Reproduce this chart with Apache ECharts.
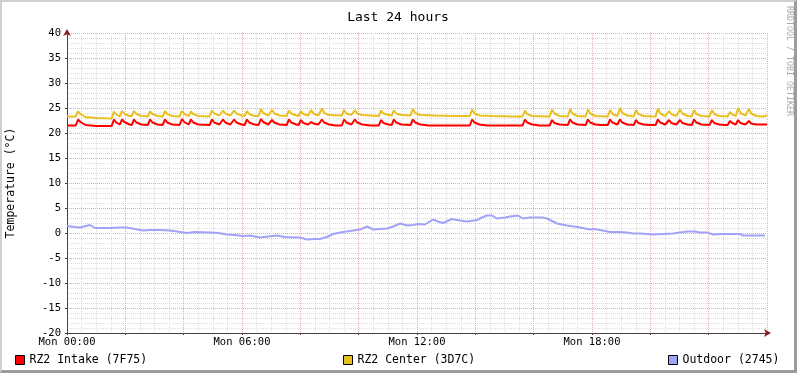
<!DOCTYPE html>
<html>
<head>
<meta charset="utf-8">
<script src="https://cdn.jsdelivr.net/npm/echarts@6/dist/echarts.min.js"></script>
<style>
  html, body { margin: 0; padding: 0; background: #fff; }
  #chart {
    width: 797px; height: 373px; box-sizing: border-box;
    border-top: 2px solid #cfcfcf; border-left: 2px solid #cfcfcf;
    border-right: 3px solid #9c9c9c; border-bottom: 3px solid #9c9c9c;
    background: #fff;
  }
</style>
</head>
<body>
<div id="chart"></div>
<script>
// values, time in hours since Mon 00:00
const seriesNames = ['RZ2 Intake (7F75)', 'RZ2 Center (3D7C)', 'Outdoor (2745)'];
const tickHours = [0, 6, 12, 18];
const tickLabels = ['Mon 00:00', 'Mon 06:00', 'Mon 12:00', 'Mon 18:00'];

const intakeData = [
  [0,21.5],[0.30,21.5],[0.38,22.7],[0.46,22.2],[0.63,21.6],[1.0,21.4],[1.53,21.4],
  [1.61,22.7],[1.69,22.1],[1.81,21.7],[1.89,22.7],[1.97,22.2],[2.14,21.7],
  [2.22,21.6],[2.30,22.7],[2.38,22.1],[2.55,21.7],
  [2.77,21.6],[2.85,22.7],[2.93,22.1],[3.10,21.7],
  [3.28,21.6],[3.36,22.7],[3.44,22.1],[3.61,21.7],
  [3.86,21.6],[3.94,22.8],[4.02,22.2],[4.17,21.7],[4.25,22.7],[4.33,22.1],[4.50,21.7],
  [4.89,21.6],[4.97,22.7],[5.05,22.1],[5.22,21.7],
  [5.27,21.6],[5.35,22.7],[5.43,22.1],[5.60,21.7],
  [5.65,21.6],[5.73,22.7],[5.81,22.1],[5.98,21.7],
  [6.09,21.6],[6.17,22.7],[6.25,22.1],[6.42,21.7],
  [6.57,21.6],[6.65,22.8],[6.73,22.2],[6.90,21.7],
  [6.95,21.6],[7.03,22.6],[7.11,22.1],[7.28,21.7],
  [7.53,21.6],[7.61,22.7],[7.69,22.1],[7.86,21.7],
  [7.94,21.6],[8.02,22.6],[8.10,22.0],[8.27,21.7],
  [8.29,21.6],[8.37,22.2],[8.45,21.9],[8.62,21.7],
  [8.66,21.6],[8.74,22.7],[8.82,22.1],[8.99,21.7],
  [9.20,21.5],[9.42,21.5],[9.50,22.7],[9.58,22.1],[9.75,21.7],
  [9.79,21.6],[9.87,22.7],[9.95,22.1],[10.12,21.7],[10.40,21.5],
  [10.69,21.5],[10.77,22.6],[10.85,22.0],[11.02,21.7],
  [11.13,21.6],[11.21,22.7],[11.29,22.1],[11.46,21.7],
  [11.78,21.6],[11.86,22.7],[11.94,22.1],[12.11,21.7],[12.40,21.5],
  [13.81,21.5],[13.89,22.7],[13.97,22.1],[14.14,21.7],[14.40,21.5],
  [15.62,21.5],[15.70,22.7],[15.78,22.1],[15.95,21.7],[16.20,21.5],
  [16.55,21.5],[16.63,22.6],[16.71,22.0],[16.88,21.7],
  [17.17,21.6],[17.25,22.7],[17.33,22.1],[17.50,21.7],
  [17.78,21.6],[17.86,22.7],[17.94,22.1],[18.11,21.7],[18.30,21.6],
  [18.54,21.6],[18.62,22.7],[18.70,22.1],[18.87,21.7],
  [18.88,21.6],[18.96,22.7],[19.04,22.1],[19.21,21.7],
  [19.43,21.6],[19.51,22.6],[19.59,22.0],[19.76,21.7],[19.95,21.6],
  [20.18,21.6],[20.26,22.7],[20.34,22.1],[20.51,21.7],
  [20.56,21.6],[20.64,22.6],[20.72,22.0],[20.89,21.7],
  [20.94,21.6],[21.02,22.6],[21.10,22.0],[21.27,21.7],
  [21.42,21.6],[21.50,22.7],[21.58,22.1],[21.75,21.7],
  [22.03,21.6],[22.11,22.6],[22.19,22.0],[22.36,21.7],[22.55,21.6],
  [22.65,21.6],[22.73,22.4],[22.81,22.0],[22.93,21.7],[23.01,22.6],[23.09,22.0],[23.26,21.7],
  [23.30,21.6],[23.38,22.4],[23.46,21.9],[23.63,21.7],[24,21.7]
];

const centerData = [
  [0,23.3],[0.30,23.3],[0.38,24.3],[0.46,23.8],[0.63,23.2],[1.0,23.0],[1.53,22.9],
  [1.61,24.3],[1.69,23.7],[1.81,23.3],[1.89,24.4],[1.97,23.8],[2.14,23.4],
  [2.22,23.4],[2.30,24.4],[2.38,23.8],[2.55,23.4],
  [2.77,23.3],[2.85,24.3],[2.93,23.8],[3.10,23.4],
  [3.28,23.3],[3.36,24.4],[3.44,23.8],[3.61,23.4],
  [3.86,23.3],[3.94,24.4],[4.02,23.8],[4.17,23.4],[4.25,24.3],[4.33,23.8],[4.50,23.4],
  [4.89,23.3],[4.97,24.5],[5.05,23.9],[5.22,23.5],
  [5.27,23.4],[5.35,24.5],[5.43,23.9],[5.60,23.5],
  [5.65,23.4],[5.73,24.5],[5.81,23.9],[5.98,23.5],
  [6.09,23.4],[6.17,24.4],[6.25,23.8],[6.42,23.4],
  [6.57,23.4],[6.65,24.8],[6.73,24.0],[6.90,23.5],
  [6.95,23.4],[7.03,24.6],[7.11,23.9],[7.28,23.5],
  [7.53,23.4],[7.61,24.5],[7.69,23.9],[7.86,23.5],
  [7.94,23.4],[8.02,24.4],[8.10,23.8],[8.27,23.5],
  [8.29,23.4],[8.37,24.6],[8.45,23.9],[8.62,23.5],
  [8.66,23.5],[8.74,24.9],[8.82,24.0],[8.99,23.6],
  [9.42,23.5],[9.50,24.6],[9.58,23.9],[9.75,23.6],
  [9.79,23.5],[9.87,24.6],[9.95,23.9],[10.12,23.6],[10.40,23.5],
  [10.69,23.4],[10.77,24.5],[10.85,23.9],[11.02,23.6],
  [11.13,23.5],[11.21,24.5],[11.29,23.9],[11.46,23.6],
  [11.78,23.5],[11.86,24.8],[11.94,24.0],[12.11,23.6],[12.60,23.5],[13.30,23.4],
  [13.81,23.4],[13.89,24.7],[13.97,23.9],[14.14,23.5],[14.60,23.4],[15.30,23.3],
  [15.62,23.3],[15.70,24.5],[15.78,23.8],[15.95,23.4],
  [16.55,23.3],[16.63,24.7],[16.71,23.9],[16.88,23.4],
  [17.17,23.3],[17.25,24.8],[17.33,23.9],[17.50,23.4],
  [17.78,23.3],[17.86,24.7],[17.94,23.9],[18.11,23.4],
  [18.54,23.3],[18.62,24.6],[18.70,23.8],[18.87,23.4],
  [18.88,23.4],[18.96,25.0],[19.04,24.0],[19.21,23.5],
  [19.43,23.3],[19.51,24.6],[19.59,23.8],[19.76,23.4],
  [20.18,23.3],[20.26,24.9],[20.34,23.9],[20.51,23.4],
  [20.56,23.3],[20.64,24.4],[20.72,23.8],[20.89,23.4],
  [20.94,23.3],[21.02,24.7],[21.10,23.9],[21.27,23.4],
  [21.42,23.3],[21.50,24.6],[21.58,23.8],[21.75,23.4],
  [22.03,23.3],[22.11,24.6],[22.19,23.8],[22.36,23.4],
  [22.65,23.3],[22.73,24.2],[22.81,23.7],[22.93,23.4],[23.01,25.0],[23.09,24.0],[23.26,23.5],
  [23.30,23.4],[23.38,24.8],[23.46,23.9],[23.63,23.4],[23.85,23.3],[24,23.5]
];

const outdoorData = [
  [0.00,1.4],[0.27,1.2],[0.45,1.1],[0.79,1.6],[0.96,1.0],[1.47,1.0],[1.82,1.1],[2.06,1.1],
  [2.33,0.8],[2.61,0.5],[2.85,0.6],[3.19,0.6],[3.53,0.5],[3.77,0.3],[4.11,0.0],[4.39,0.2],
  [4.90,0.1],[5.18,0.0],[5.49,-0.3],[5.76,-0.4],[6.03,-0.6],[6.27,-0.5],[6.62,-0.9],[6.89,-0.7],
  [7.20,-0.5],[7.47,-0.8],[7.75,-0.9],[7.99,-0.9],[8.23,-1.3],[8.50,-1.2],[8.67,-1.2],[8.91,-0.8],
  [9.12,-0.2],[9.46,0.2],[9.70,0.4],[10.05,0.7],[10.29,1.3],[10.49,0.7],[10.73,0.8],[10.97,0.9],
  [11.18,1.3],[11.42,1.9],[11.66,1.5],[11.86,1.6],[12.03,1.8],[12.27,1.7],[12.55,2.7],[12.72,2.3],
  [12.89,2.0],[13.20,2.8],[13.47,2.5],[13.71,2.3],[14.06,2.6],[14.23,3.1],[14.40,3.5],[14.57,3.5],
  [14.74,2.9],[15.02,3.1],[15.19,3.3],[15.46,3.5],[15.63,2.9],[15.87,3.1],[16.29,3.1],[16.46,2.9],
  [16.63,2.4],[16.80,1.9],[16.97,1.7],[17.14,1.5],[17.38,1.3],[17.59,1.1],[17.76,0.9],[17.93,0.7],
  [18.10,0.8],[18.27,0.6],[18.45,0.4],[18.62,0.2],[18.89,0.2],[19.20,0.1],[19.41,-0.1],[19.65,-0.1],
  [20.09,-0.3],[20.43,-0.2],[20.78,-0.1],[21.02,0.1],[21.26,0.3],[21.53,0.3],[21.70,0.1],[21.94,0.1],
  [22.15,-0.3],[22.39,-0.2],[23.07,-0.2],[23.18,-0.5],[23.93,-0.5]
];

const FONT = 'DejaVu Sans Mono';
const colors = ['#ff0000', '#e8c020', '#a2a2f8'];

const chart = echarts.init(document.getElementById('chart'));

const lineSeries = [intakeData, centerData, outdoorData].map((d, i) => ({
  name: seriesNames[i],
  type: 'line',
  data: d,
  showSymbol: false,
  symbol: 'none',
  animation: false,
  color: colors[i],
  lineStyle: { color: colors[i], width: 2 },
  itemStyle: { color: colors[i] }
}));

function legendAt(name, left) {
  return {
    data: [name], left: left, top: 352, padding: 0,
    icon: 'rect', itemWidth: 9, itemHeight: 9,
    itemStyle: { borderColor: '#000', borderWidth: 1 },
    textStyle: { fontFamily: FONT, fontSize: 11.5, color: '#000' },
    selectedMode: false
  };
}

const minorGrid = { show: true, lineStyle: { color: '#dcdcdc', width: 1, type: [1, 1] } };
const majorGrid = { show: true, lineStyle: { color: '#eaa8a8', width: 1, type: [1, 1] } };

chart.setOption({
  animation: false,
  backgroundColor: '#fff',
  title: {
    text: 'Last 24 hours', left: 'center', top: 4,
    textStyle: { fontFamily: FONT, fontSize: 13, fontWeight: 'normal', color: '#000' }
  },
  legend: [
    legendAt(seriesNames[0], 13),
    legendAt(seriesNames[1], 341),
    legendAt(seriesNames[2], 666)
  ],
  grid: { left: 65, right: 27, top: 31, bottom: 37, containLabel: false, outerBoundsMode: 'none' },
  xAxis: [{
    type: 'value', min: 0, max: 24, interval: 2,
    axisLine: { show: true, onZero: false, lineStyle: { color: '#484040', width: 1 } },
    axisTick: { show: true, length: 2, lineStyle: { color: '#484040' } },
    minorTick: { show: false, splitNumber: 4 },
    axisLabel: {
      fontFamily: FONT, fontSize: 10.5, color: '#000', margin: 4,
      showMinLabel: true, showMaxLabel: false,
      formatter: v => { const k = tickHours.indexOf(v); return k >= 0 ? tickLabels[k] : ''; }
    },
    splitLine: majorGrid,
    minorSplitLine: minorGrid
  }, {
    // arrow head only
    type: 'value', min: 0, max: 24, position: 'bottom',
    axisLine: { show: true, onZero: false, symbol: ['none', 'arrow'], symbolSize: [6, 7], symbolOffset: [0, 4],
      lineStyle: { color: '#8a1c1c', width: 0 } },
    axisTick: { show: false }, axisLabel: { show: false }, splitLine: { show: false }
  }],
  yAxis: [{
    type: 'value', min: -20, max: 40, interval: 5,
    name: 'Temperature (°C)', nameLocation: 'middle', nameGap: 50, nameRotate: 90,
    nameTextStyle: { fontFamily: FONT, fontSize: 11.5, color: '#000' },
    axisLine: { show: true, onZero: false, lineStyle: { color: '#484040', width: 1 } },
    axisTick: { show: true, length: 2, lineStyle: { color: '#484040' } },
    minorTick: { show: false, splitNumber: 5 },
    axisLabel: { fontFamily: FONT, fontSize: 10.5, color: '#000', margin: 6 },
    splitLine: majorGrid,
    minorSplitLine: minorGrid
  }, {
    type: 'value', min: -20, max: 40, position: 'left',
    axisLine: { show: true, onZero: false, symbol: ['none', 'arrow'], symbolSize: [6, 7], symbolOffset: [0, 4],
      lineStyle: { color: '#8a1c1c', width: 0 } },
    axisTick: { show: false }, axisLabel: { show: false }, splitLine: { show: false }
  }],
  graphic: [{
    type: 'text', x: 787, y: 4, rotation: -Math.PI / 2,
    style: { text: 'RRDTOOL / TOBI OETIKER', fontFamily: FONT, fontSize: 8.3,
      fill: '#aaaaaa', textAlign: 'left', textVerticalAlign: 'middle' }
  }],
  series: lineSeries
});

window.addEventListener('resize', () => chart.resize());
</script>
</body>
</html>
